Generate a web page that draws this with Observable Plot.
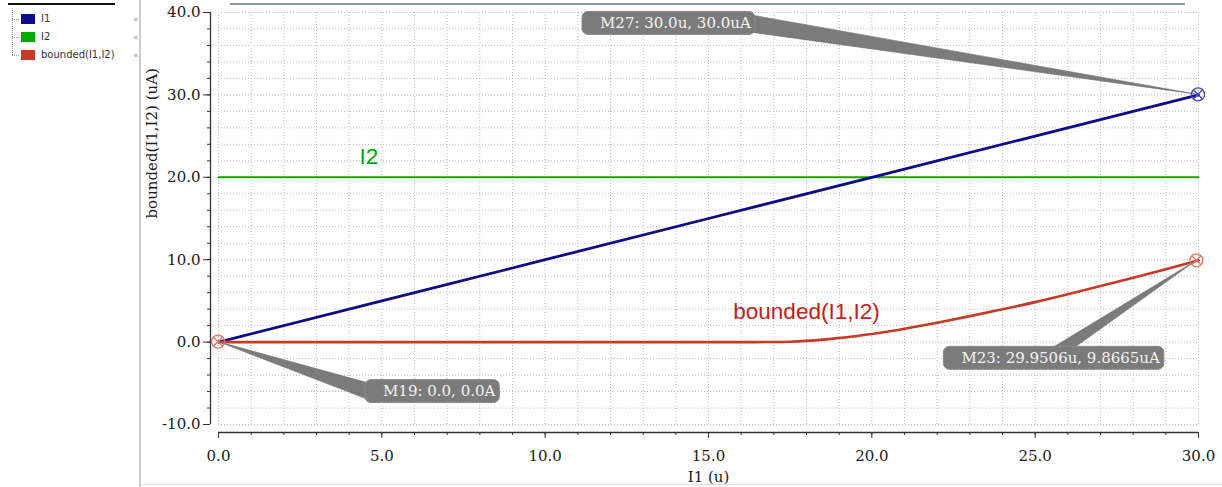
<!DOCTYPE html>
<html><head><meta charset="utf-8">
<script src="https://cdn.jsdelivr.net/npm/d3@7"></script>
<script src="https://cdn.jsdelivr.net/npm/@observablehq/plot@0.6"></script>
<style>
html,body{margin:0;padding:0;background:#fff;}
#wrap{position:relative;width:1222px;height:487px;overflow:hidden;background:#fff;}
#wrap svg{position:absolute;left:0;top:0;}
#legend{position:absolute;left:0;top:0;width:139px;height:487px;border-right:2px solid #cdcdcd;background:#fff;font-family:"DejaVu Sans",sans-serif;font-size:10px;color:#333;}
.row{position:absolute;left:0;height:12px;line-height:12px;}
.sw{position:absolute;left:21px;top:1px;width:14px;height:10px;}
.lb{position:absolute;left:41px;top:0;white-space:nowrap;}
.tick{position:absolute;left:12px;top:6px;width:7px;border-top:1px dotted #999;}
.arr{position:absolute;left:133px;top:0;color:#7f93b8;font-size:9px;}
#tree{position:absolute;left:12px;top:8px;height:47px;border-left:1px dotted #999;}
#topblack{position:absolute;left:8px;top:3px;width:107px;height:2px;background:#111;}
#topgray{position:absolute;left:230px;top:3px;width:955px;height:2px;background:#8e99aa;}
#bottomline{position:absolute;left:141px;top:484px;width:1081px;height:1px;background:#e2e2e2;}
</style></head><body><div id="wrap"></div>
<script>
// ---- data ----
const seriesNames = ["I1", "I2", "bounded(I1,I2)"];
const seriesColors = ["#0c0c8a", "#00aa00", "#c83a26"];

const sweepI1 = [0, 5, 10, 15, 20, 25, 30];
const valuesI1 = [0, 5, 10, 15, 20, 25, 30];

const sweepI2 = [0, 30];
const valuesI2 = [20, 20];

const sweepBounded = [0, 2, 4, 6, 8, 10, 12, 14, 16, 17, 17.5, 18, 18.5, 19, 19.5, 20, 20.5, 21, 21.5, 22, 23, 24, 25, 26, 27, 28, 29, 29.95, 30];
const valuesBounded = [0, 0, 0, 0, 0, 0, 0, 0, 0, 0.01, 0.05, 0.15, 0.3, 0.5, 0.72, 0.98, 1.28, 1.62, 1.98, 2.36, 3.15, 3.98, 4.85, 5.8, 6.8, 7.8, 8.83, 9.8665, 9.92];

const markerNames = ["M19", "M27", "M23"];
const markerX = [0, 30, 29.9506];
const markerY = [0, 30, 9.8665];
const markerText = ["M19: 0.0, 0.0A", "M27: 30.0u, 30.0uA", "M23: 29.9506u, 9.8665uA"];

const labelText = ["I2", "bounded(I1,I2)"];
const labelX = [4.6, 18.0];
const labelY = [20, 0];

const xMajorTicks = [0, 5, 10, 15, 20, 25, 30];
const yMajorTicks = [-10, 0, 10, 20, 30, 40];
const xTickLabels = ["0.0", "5.0", "10.0", "15.0", "20.0", "25.0", "30.0"];
const yTickLabels = ["-10.0", "0.0", "10.0", "20.0", "30.0", "40.0"];
const xAxisTitle = "I1 (u)";
const yAxisTitle = "bounded(I1,I2) (uA)";

// ---- tables built from arrays ----
const dI1 = sweepI1.map((x, i) => ({x, y: valuesI1[i]}));
const dI2 = sweepI2.map((x, i) => ({x, y: valuesI2[i]}));
const dB = sweepBounded.map((x, i) => ({x, y: valuesBounded[i]}));
const markers = markerNames.map((n, i) => ({name: n, x: markerX[i], y: markerY[i], text: markerText[i]}));
const labels = labelText.map((t, i) => ({t, x: labelX[i], y: labelY[i]}));

// ---- style ----
const markerStroke = ["#e07462", "#4646b4", "#e07462"];
const labelColors = ["#00aa00", "#c0221e"];
const labelDy = [-21, -30];
const calloutLayout = [
  {dx: 147, dy: 38, base: (bx, by, w, h) => [[bx + 2, by + 3], [bx + 6, by + h - 2]]},
  {dx: -616, dy: -83, base: (bx, by, w, h) => [[bx + w - 18, by + 1], [bx + w - 2, by + h - 2]]},
  {dx: -253, dy: 86, base: (bx, by, w, h) => [[bx + 108, by + 2], [bx + 130, by + 2]]}
];

const minorX = d3.range(0, 31, 1);
const minorY = d3.range(-10, 41, 2);
const fmtX = d => xTickLabels[xMajorTicks.indexOf(d)];
const fmtY = d => yTickLabels[yMajorTicks.indexOf(d)];

const chart = Plot.plot({
  width: 1222,
  height: 487,
  marginLeft: 218,
  marginRight: 24,
  marginTop: 12,
  marginBottom: 63,
  style: {fontFamily: "DejaVu Serif", fontSize: "15px", color: "#1a1a1a", background: "transparent"},
  x: {domain: [0, 30], label: null},
  y: {domain: [-10, 40], label: null},
  marks: [
    Plot.gridX(minorX, {stroke: "#bdbdbd", strokeOpacity: 1, strokeDasharray: "1,2"}),
    Plot.gridY(minorY, {stroke: "#bdbdbd", strokeOpacity: 1, strokeDasharray: "1,2"}),
    Plot.ruleX([0], {dx: -8, stroke: "#333", strokeWidth: 1.3}),
    Plot.ruleY([-10], {dy: 8, stroke: "#333", strokeWidth: 1.3}),
    Plot.axisY(minorY, {anchor: "left", dx: -8, tickSize: 3, tickFormat: () => "", label: null, stroke: "#333"}),
    Plot.axisY(yMajorTicks, {anchor: "left", dx: -8, tickSize: 7, tickPadding: 3, tickFormat: fmtY, label: null, stroke: "#333", fill: "#1a1a1a"}),
    Plot.axisX(minorX, {anchor: "bottom", dy: 8, tickSize: 3, tickFormat: () => "", label: null, stroke: "#333"}),
    Plot.axisX(xMajorTicks, {anchor: "bottom", dy: 8, tickSize: 6, tickPadding: 12, tickFormat: fmtX, label: null, stroke: "#333", fill: "#1a1a1a"}),
    Plot.text([xAxisTitle], {frameAnchor: "bottom", dy: 53, lineAnchor: "middle", fontFamily: "DejaVu Serif", fontSize: 15, fill: "#1a1a1a"}),
    Plot.text([yAxisTitle], {frameAnchor: "left", dx: -66, rotate: -90, lineAnchor: "middle", fontFamily: "DejaVu Serif", fontSize: 15, fill: "#1a1a1a"}),
    Plot.line(dI2, {x: "x", y: "y", stroke: seriesColors[1], strokeWidth: 2}),
    Plot.line(dI1, {x: "x", y: "y", stroke: seriesColors[0], strokeWidth: 2.8}),
    Plot.line(dB, {x: "x", y: "y", stroke: seriesColors[2], strokeWidth: 2.6, curve: "monotone-x"}),
    Plot.text(labels, {x: "x", y: "y", text: "t", fontFamily: "Liberation Sans", fontSize: 22.5, lineAnchor: "middle"})
  ]
});

const wrap = document.getElementById("wrap");
wrap.appendChild(chart);

// label offsets and colours (style only)
d3.select(chart).selectAll("g[aria-label='text']").filter((d, i, n) => n[i].querySelectorAll("text").length === labels.length)
  .selectAll("text").each(function(d, i) {
    const tr = this.getAttribute("transform");
    this.setAttribute("transform", (tr || "") + ` translate(0,${labelDy[i]})`);
    this.setAttribute("fill", labelColors[i]);
  });

// callouts and markers drawn with the chart's own scales
const sx = chart.scale("x"), sy = chart.scale("y");
const svg = d3.select(chart);
const g = svg.append("g").attr("class", "callouts").attr("text-anchor", "start");
markers.forEach((m, i) => {
  const px = sx.apply(m.x), py = sy.apply(m.y);
  const L = calloutLayout[i];
  const bx = px + L.dx, by = py + L.dy, h = 23, padL = 18, padR = 4;
  const grp = g.append("g");
  const wedge = grp.append("polygon");
  const rect = grp.append("rect");
  const t = grp.append("text").text(m.text)
    .attr("text-anchor", "start")
    .attr("font-family", "DejaVu Serif").attr("font-size", 15)
    .attr("fill", "#f3f3f3").attr("y", by + h / 2).attr("dy", "0.35em");
  const tw = t.node().getComputedTextLength();
  const w = tw + padL + padR;
  t.attr("x", bx + padL);
  rect.attr("x", bx).attr("y", by).attr("width", w).attr("height", h)
    .attr("rx", 6).attr("fill", "#7b7b7b").attr("stroke", "#8a8a8a").attr("stroke-width", 1);
  const b = L.base(bx, by, w, h);
  wedge.attr("points", [[px, py], b[0], b[1]].map(p => p.join(",")).join(" "))
    .attr("fill", "#7b7b7b").attr("stroke", "#6f6f6f").attr("stroke-width", 0.6);
});
// marker symbols on top
const mg = svg.append("g");
markers.forEach((m, i) => {
  const px = sx.apply(m.x), py = sy.apply(m.y), r = 6.5, k = r * 0.7071;
  mg.append("circle").attr("cx", px).attr("cy", py).attr("r", r)
    .attr("fill", "none").attr("stroke", markerStroke[i]).attr("stroke-width", 1.3);
  mg.append("path").attr("d", `M${px - k},${py - k}L${px + k},${py + k}M${px - k},${py + k}L${px + k},${py - k}`)
    .attr("stroke", markerStroke[i]).attr("stroke-width", 1.3);
});

// legend panel
const legend = document.createElement("div");
legend.id = "legend";
let html = '<div id="topblack"></div><div id="tree"></div>';
seriesNames.forEach((n, i) => {
  html += `<div class="row" style="top:${13 + i * 18}px;width:139px"><div class="tick"></div><div class="sw" style="background:${seriesColors[i]}"></div><div class="lb">${n}</div><div class="arr">&#x00AB;</div></div>`;
});
legend.innerHTML = html;
wrap.appendChild(legend);
const tg = document.createElement("div"); tg.id = "topgray"; wrap.appendChild(tg);
const bl = document.createElement("div"); bl.id = "bottomline"; wrap.appendChild(bl);
</script>
</body></html>
